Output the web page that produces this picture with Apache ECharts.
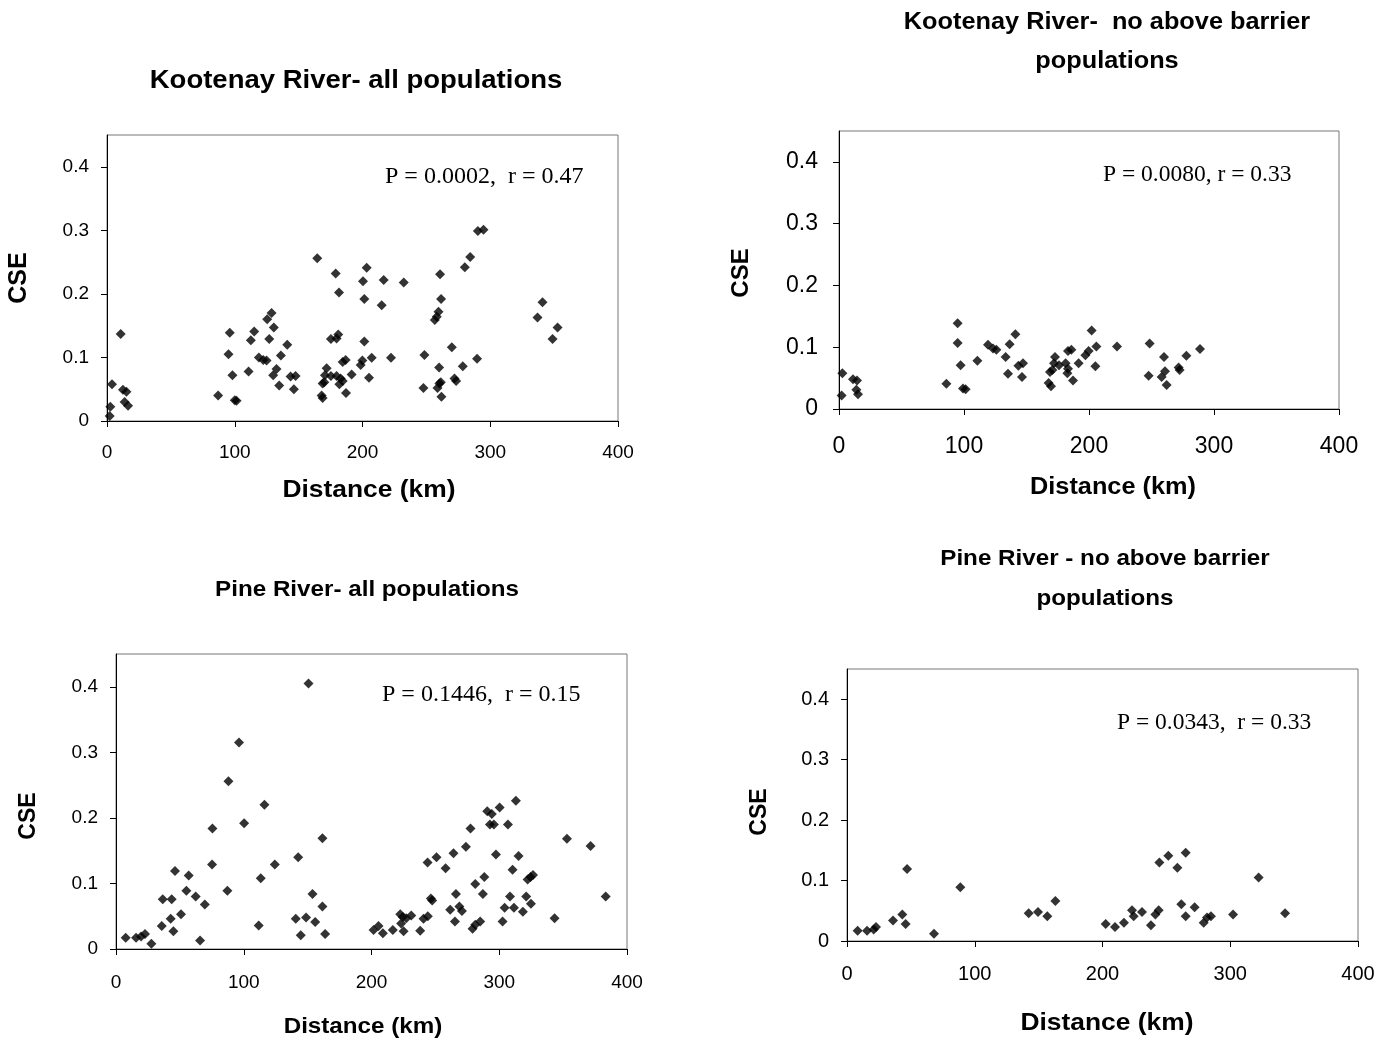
<!DOCTYPE html>
<html>
<head>
<meta charset="utf-8">
<title>CSE vs distance</title>
<script src="https://cdn.jsdelivr.net/npm/echarts@6/dist/echarts.min.js"></script>
<style>
  html, body { margin: 0; padding: 0; background: #fff; }
  #chart { width: 1395px; height: 1040px; }
</style>
</head>
<body>
<div id="chart"></div>
<script>
// Kootenay River - all populations
var kootAllKm = [2.1, 2.6, 3.9, 10.7, 12.5, 15.2, 13.8, 16.5, 87, 96.1, 95.1, 98.2, 100, 101.4, 110.8, 112.6, 115.2, 118.9, 122.3, 124.9,
  125.4, 128.8, 127, 130.6, 132.7, 130.1, 136.1, 141.1, 134.8, 143.7, 147.6, 146.3, 164.6, 171.9, 170.6, 168.8, 170.1, 168, 168.8, 179,
  181.6, 175.3, 181, 179.7, 175.3, 179.7, 182.9, 181.9, 184.5, 187.1, 184.5, 186.8, 191.5, 198.6, 199.9, 200.4, 203.3, 201.4, 201.4, 205.1,
  207.2, 215, 216.6, 222.3, 232.3, 247.7, 248.5, 258.7, 260.2, 261.3, 261.8, 260, 256.6, 258.1, 259.5, 261.5, 260.7, 269.9, 272, 273.3,
  278.5, 280.1, 284.3, 289.7, 290.3, 294.7, 337, 340.9, 348.8, 352.7];
var kootAllCse = [0.008, 0.0225, 0.058, 0.137, 0.049, 0.046, 0.030, 0.024, 0.040, 0.139, 0.105, 0.072, 0.0325, 0.032, 0.078, 0.127, 0.141, 0.100, 0.096, 0.095,
  0.160, 0.170, 0.129, 0.147, 0.082, 0.072, 0.103, 0.120, 0.056, 0.070, 0.071, 0.050, 0.256, 0.083, 0.072, 0.059, 0.061, 0.040, 0.036, 0.232,
  0.202, 0.129, 0.136, 0.130, 0.071, 0.071, 0.067, 0.058, 0.063, 0.044, 0.093, 0.096, 0.073, 0.088, 0.095, 0.220, 0.241, 0.192, 0.125, 0.068,
  0.0996, 0.182, 0.222, 0.0996, 0.218, 0.052, 0.104, 0.052, 0.059, 0.061, 0.038, 0.084, 0.159, 0.164, 0.172, 0.192, 0.231, 0.116, 0.067, 0.063,
  0.086, 0.242, 0.258, 0.098, 0.299, 0.301, 0.163, 0.187, 0.129, 0.147];

// Kootenay River - no above barrier populations
var kootBelowKm = [2.1, 2.7, 11.2, 14.4, 13.9, 15.2, 85.9, 94.9, 94.9, 97.3, 99.2, 101.3, 110.7, 119.2, 123.2, 125.9, 133.3, 136.5, 141.1, 135.2,
  143.5, 147.2, 146.4, 167.7, 169.6, 168.8, 170.7, 172.8, 172, 176, 181.3, 183.2, 182.7, 183.2, 185.9, 187.2, 191.7, 197.1, 199.7, 202.1,
  205.9, 205.1, 222.4, 248.5, 247.7, 258.1, 260, 260.8, 262.1, 271.7, 272.5, 277.9, 288.8];
var kootBelowCse = [0.022, 0.058, 0.048, 0.046, 0.031, 0.024, 0.041, 0.139, 0.107, 0.071, 0.033, 0.032, 0.078, 0.104, 0.098, 0.096, 0.084, 0.105, 0.121, 0.057,
  0.070, 0.074, 0.052, 0.042, 0.037, 0.060, 0.063, 0.084, 0.074, 0.071, 0.074, 0.065, 0.058, 0.094, 0.096, 0.046, 0.074, 0.087, 0.094, 0.127,
  0.101, 0.069, 0.101, 0.106, 0.054, 0.052, 0.084, 0.061, 0.039, 0.067, 0.063, 0.086, 0.097];

// Pine River - all populations
var pineAllKm = [7.6, 15.7, 19.6, 22.7, 27.7, 35.8, 36.6, 43.6, 42.8, 44.9, 46.2, 50.9, 55.1, 56.9, 62.4, 65.8, 69.5, 75.2, 75.5, 87.2,
  88, 96.3, 100.3, 111.7, 113.3, 116.2, 124.3, 140.7, 142.6, 144.6, 148.8, 150.7, 153.8, 155.9, 161.6, 161.6, 163.7, 201.6, 205.5, 208.9,
  216.7, 222.5, 224.5, 223.2, 225.1, 227.2, 231.1, 238.1, 240.7, 244.1, 243.9, 246.5, 247.5, 250.9, 258, 261.6, 264.2, 265.3, 266.1, 268.8,
  270.8, 273.9, 277.5, 279.1, 281.2, 285.1, 281.2, 287.2, 288.3, 290.6, 294.2, 292.7, 295.8, 297.4, 300.3, 302.6, 304.2, 306.8, 308.4, 310.4,
  311.5, 313, 315.1, 318.5, 321.1, 322.2, 324.8, 324.5, 326.4, 343.3, 353, 371.5, 383.3];
var pineAllCse = [0.017, 0.017, 0.019, 0.023, 0.008, 0.035, 0.076, 0.076, 0.046, 0.027, 0.119, 0.053, 0.089, 0.112, 0.080, 0.013, 0.068, 0.129, 0.184, 0.089,
  0.256, 0.315, 0.192, 0.036, 0.108, 0.220, 0.129, 0.046, 0.140, 0.021, 0.048, 0.405, 0.084, 0.041, 0.169, 0.065, 0.023, 0.029, 0.035, 0.024,
  0.029, 0.053, 0.049, 0.039, 0.027, 0.047, 0.051, 0.028, 0.046, 0.050, 0.132, 0.077, 0.074, 0.140, 0.123, 0.060, 0.146, 0.042, 0.084, 0.065,
  0.058, 0.156, 0.184, 0.031, 0.037, 0.042, 0.099, 0.084, 0.110, 0.210, 0.206, 0.190, 0.190, 0.144, 0.216, 0.042, 0.063, 0.190, 0.080, 0.121,
  0.063, 0.226, 0.142, 0.057, 0.080, 0.106, 0.069, 0.110, 0.113, 0.047, 0.168, 0.157, 0.080];

// Pine River - no above barrier populations
var pineBelowKm = [8.3, 15.7, 20.9, 22.7, 36, 43.3, 45.9, 47, 68.1, 88.7, 142.2, 149.5, 156.8, 163.1, 202.5, 209.8, 216.8, 223.1, 224.4, 230.9,
  237.9, 241.4, 244, 244.5, 251.5, 258.6, 265.1, 261.7, 265.1, 272.1, 279.2, 281.8, 284.9, 302.2, 322.2, 342.9];
var pineBelowCse = [0.017, 0.017, 0.019, 0.023, 0.034, 0.044, 0.028, 0.119, 0.012, 0.089, 0.046, 0.048, 0.041, 0.066, 0.028, 0.023, 0.030, 0.051, 0.041, 0.048,
  0.026, 0.044, 0.051, 0.130, 0.141, 0.121, 0.146, 0.061, 0.041, 0.056, 0.030, 0.039, 0.041, 0.044, 0.105, 0.046];

var panelTitles = [
  ['Kootenay River- all populations'],
  ['Kootenay River-  no above barrier', 'populations'],
  ['Pine River- all populations'],
  ['Pine River - no above barrier', 'populations']
];
var statLabels = ['P = 0.0002,  r = 0.47', 'P = 0.0080, r = 0.33', 'P = 0.1446,  r = 0.15', 'P = 0.0343,  r = 0.33'];

function pairs(xs, ys) {
  return xs.map(function (x, i) { return [x, ys[i]]; });
}

// layout of the four panels (plot box in pixels)
var panels = [
  { left: 107, top: 135, width: 511, height: 286, lab: 19, ym: 18, xm: 22, data: pairs(kootAllKm, kootAllCse) },
  { left: 839, top: 131, width: 500, height: 278, lab: 23, ym: 21, xm: 26, data: pairs(kootBelowKm, kootBelowCse) },
  { left: 116, top: 654, width: 511, height: 295, lab: 19, ym: 18, xm: 24, data: pairs(pineAllKm, pineAllCse) },
  { left: 847, top: 669, width: 511, height: 272, lab: 20, ym: 18, xm: 23, data: pairs(pineBelowKm, pineBelowCse) }
];

var sans = '"Liberation Sans", Arial, sans-serif';
var serif = '"Liberation Serif", "Times New Roman", serif';

var grids = [], xAxes = [], yAxes = [], series = [];
panels.forEach(function (p, i) {
  grids.push({ left: p.left, top: p.top, width: p.width, height: p.height, show: true, borderColor: '#777', borderWidth: 1 });
  xAxes.push({
    gridIndex: i, type: 'value', min: 0, max: 400, interval: 100,
    axisLine: { show: true, lineStyle: { color: '#000', width: 1 } },
    axisTick: { show: true, length: 6, lineStyle: { color: '#000' } },
    axisLabel: { fontFamily: sans, fontSize: p.lab, color: '#000', margin: p.xm },
    splitLine: { show: false }
  });
  yAxes.push({
    gridIndex: i, type: 'value', min: 0, max: 0.45, interval: 0.1,
    axisLine: { show: true, lineStyle: { color: '#000', width: 1 } },
    axisTick: { show: true, length: 6, lineStyle: { color: '#000' } },
    axisLabel: {
      fontFamily: sans, fontSize: p.lab, color: '#000', margin: p.ym, showMaxLabel: false,
      formatter: function (v) { return v > 0.42 ? '' : String(v); }
    },
    splitLine: { show: false }
  });
  series.push({
    type: 'scatter', xAxisIndex: i, yAxisIndex: i, data: p.data,
    symbol: 'diamond', symbolSize: 10,
    itemStyle: { color: '#000' }, silent: true
  });
});

function sansText(str, x, y, size, rot, sx) {
  return {
    type: 'text', x: x, y: y, rotation: rot || 0, scaleX: sx || 1,
    style: { text: str, font: 'bold ' + size + 'px ' + sans, fill: '#000', textAlign: 'center', textVerticalAlign: 'middle' }
  };
}
function serifText(str, x, y, size) {
  return {
    type: 'text', x: x, y: y,
    style: { text: str, font: size + 'px ' + serif, fill: '#000', textAlign: 'left', textVerticalAlign: 'middle' }
  };
}

var graphics = [
  // titles
  sansText(panelTitles[0][0], 356, 81, 25, 0, 1.1),
  sansText(panelTitles[1][0], 1107, 23, 23, 0, 1.1),
  sansText(panelTitles[1][1], 1107, 62, 23, 0, 1.1),
  sansText(panelTitles[2][0], 367, 590, 22, 0, 1.1),
  sansText(panelTitles[3][0], 1105, 559, 22, 0, 1.1),
  sansText(panelTitles[3][1], 1105, 599, 22, 0, 1.1),
  // x axis names
  sansText('Distance (km)', 369, 490, 24, 0, 1.1),
  sansText('Distance (km)', 1113, 488, 23, 0, 1.1),
  sansText('Distance (km)', 363, 1027, 22, 0, 1.1),
  sansText('Distance (km)', 1107, 1023, 24, 0, 1.1),
  // y axis names
  sansText('CSE', 19, 278, 25, Math.PI / 2),
  sansText('CSE', 741, 273, 24, Math.PI / 2),
  sansText('CSE', 29, 816, 23, Math.PI / 2),
  sansText('CSE', 760, 812, 23, Math.PI / 2),
  // statistics
  serifText(statLabels[0], 385, 177, 24),
  serifText(statLabels[1], 1103, 175, 23.5),
  serifText(statLabels[2], 382, 695, 24),
  serifText(statLabels[3], 1117, 723, 23.5)
];

var chart = echarts.init(document.getElementById('chart'));
chart.setOption({
  animation: false,
  backgroundColor: '#fff',
  grid: grids,
  xAxis: xAxes,
  yAxis: yAxes,
  series: series,
  graphic: graphics
});
</script>
</body>
</html>
